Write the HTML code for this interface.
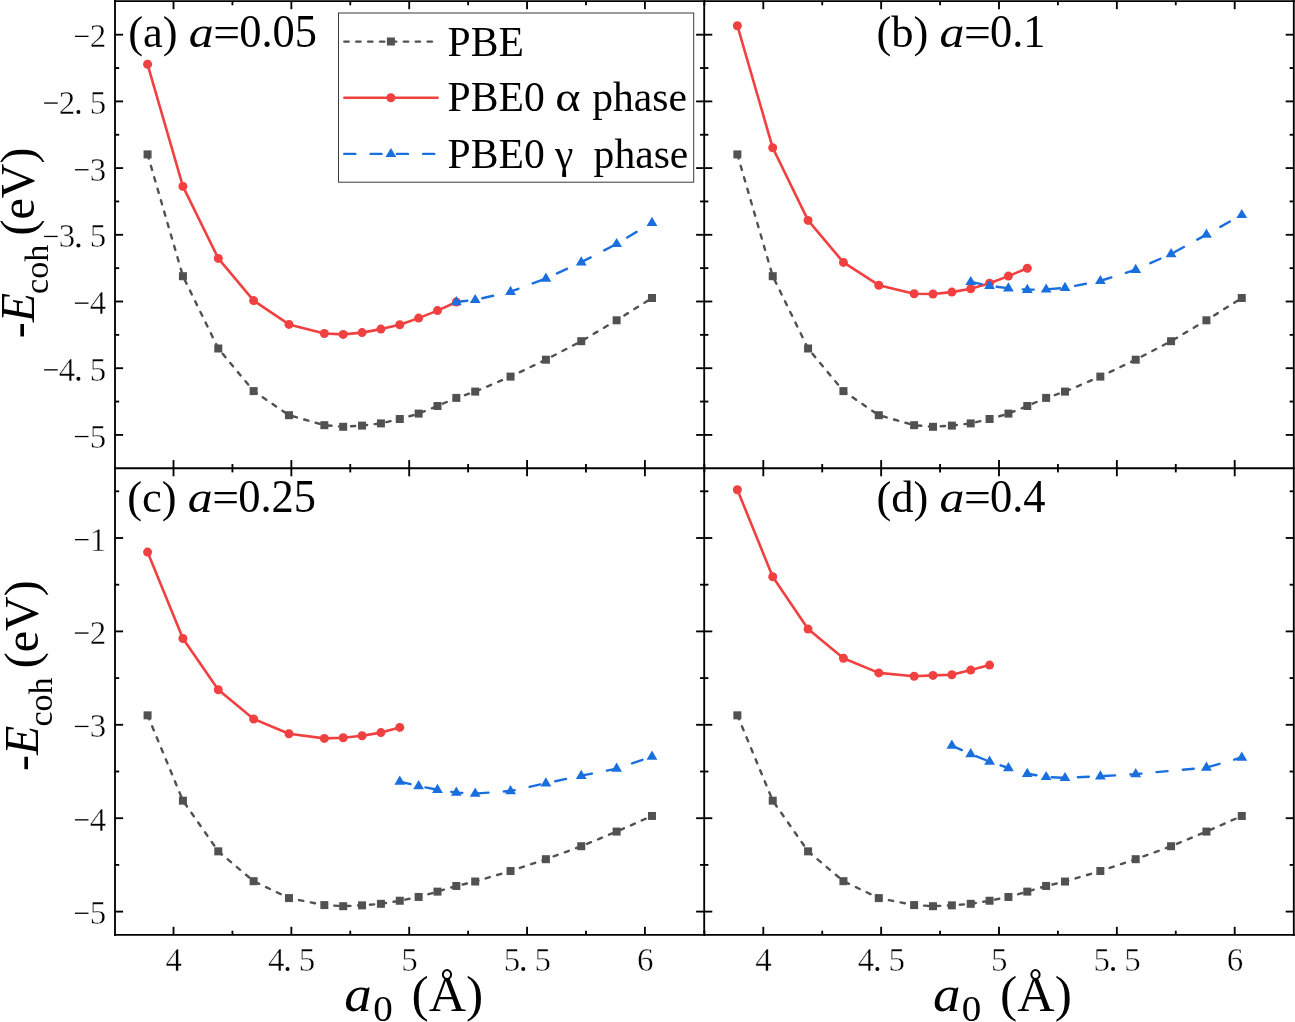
<!DOCTYPE html>
<html><head><meta charset="utf-8"><title>chart</title>
<style>
html,body{margin:0;padding:0;background:#fff;}
body{width:1295px;height:1022px;overflow:hidden;font-family:"Liberation Serif",serif;}
svg{display:block;will-change:transform;}
text{font-family:"Liberation Serif",serif;fill:#000;}
.tk{font-size:33px;stroke:#fff;stroke-width:0.45px;}
.tt{font-size:44.5px;}
.lg{font-size:41.6px;}
.yt{font-size:48px;}
.xt{font-size:50px;}
</style></head><body>
<svg width="1295" height="1022" viewBox="0 0 1295 1022">
<rect width="1295" height="1022" fill="#fff"/>
<path d="M147.57,154.40 L182.93,276.20 L218.28,348.50 L253.64,391.10 L288.99,415.20 L324.35,425.20 L343.20,426.80 L362.06,425.60 L380.92,423.40 L399.77,419.00 L418.63,413.60 L437.48,406.00 L456.34,397.90 L475.20,391.60 L510.55,376.60 L545.91,359.70 L581.26,341.20 L616.62,320.30 L651.97,298.00" fill="none" stroke="#515151" stroke-width="2.4" stroke-linejoin="round" stroke-linecap="round" stroke-dasharray="4.3 7.6"/>
<rect x="143.57" y="150.40" width="8" height="8" fill="#515151"/>
<rect x="178.93" y="272.20" width="8" height="8" fill="#515151"/>
<rect x="214.28" y="344.50" width="8" height="8" fill="#515151"/>
<rect x="249.64" y="387.10" width="8" height="8" fill="#515151"/>
<rect x="284.99" y="411.20" width="8" height="8" fill="#515151"/>
<rect x="320.35" y="421.20" width="8" height="8" fill="#515151"/>
<rect x="339.20" y="422.80" width="8" height="8" fill="#515151"/>
<rect x="358.06" y="421.60" width="8" height="8" fill="#515151"/>
<rect x="376.92" y="419.40" width="8" height="8" fill="#515151"/>
<rect x="395.77" y="415.00" width="8" height="8" fill="#515151"/>
<rect x="414.63" y="409.60" width="8" height="8" fill="#515151"/>
<rect x="433.48" y="402.00" width="8" height="8" fill="#515151"/>
<rect x="452.34" y="393.90" width="8" height="8" fill="#515151"/>
<rect x="471.20" y="387.60" width="8" height="8" fill="#515151"/>
<rect x="506.55" y="372.60" width="8" height="8" fill="#515151"/>
<rect x="541.91" y="355.70" width="8" height="8" fill="#515151"/>
<rect x="577.26" y="337.20" width="8" height="8" fill="#515151"/>
<rect x="612.62" y="316.30" width="8" height="8" fill="#515151"/>
<rect x="647.97" y="294.00" width="8" height="8" fill="#515151"/>
<path d="M147.57,64.30 L182.93,186.40 L218.28,258.40 L253.64,300.60 L288.99,324.40 L324.35,333.50 L343.20,334.40 L362.06,332.60 L380.92,329.10 L399.77,324.80 L418.63,318.10 L437.48,310.60 L456.34,302.00" fill="none" stroke="#F14040" stroke-width="2.6" stroke-linejoin="round" stroke-linecap="round"/>
<circle cx="147.57" cy="64.30" r="4.5" fill="#F14040"/>
<circle cx="182.93" cy="186.40" r="4.5" fill="#F14040"/>
<circle cx="218.28" cy="258.40" r="4.5" fill="#F14040"/>
<circle cx="253.64" cy="300.60" r="4.5" fill="#F14040"/>
<circle cx="288.99" cy="324.40" r="4.5" fill="#F14040"/>
<circle cx="324.35" cy="333.50" r="4.5" fill="#F14040"/>
<circle cx="343.20" cy="334.40" r="4.5" fill="#F14040"/>
<circle cx="362.06" cy="332.60" r="4.5" fill="#F14040"/>
<circle cx="380.92" cy="329.10" r="4.5" fill="#F14040"/>
<circle cx="399.77" cy="324.80" r="4.5" fill="#F14040"/>
<circle cx="418.63" cy="318.10" r="4.5" fill="#F14040"/>
<circle cx="437.48" cy="310.60" r="4.5" fill="#F14040"/>
<circle cx="456.34" cy="302.00" r="4.5" fill="#F14040"/>
<path d="M456.34,302.00 L475.20,299.90 L510.55,291.70 L545.91,278.50 L581.26,262.30 L616.62,243.90 L651.97,222.70" fill="none" stroke="#1A6FDF" stroke-width="2.4" stroke-linejoin="round" stroke-linecap="round" stroke-dasharray="11 15.3"/>
<path d="M456.34,296.00 L461.74,305.20 L450.94,305.20 Z" fill="#1A6FDF"/>
<path d="M475.20,293.90 L480.60,303.10 L469.80,303.10 Z" fill="#1A6FDF"/>
<path d="M510.55,285.70 L515.95,294.90 L505.15,294.90 Z" fill="#1A6FDF"/>
<path d="M545.91,272.50 L551.31,281.70 L540.51,281.70 Z" fill="#1A6FDF"/>
<path d="M581.26,256.30 L586.66,265.50 L575.86,265.50 Z" fill="#1A6FDF"/>
<path d="M616.62,237.90 L622.02,247.10 L611.22,247.10 Z" fill="#1A6FDF"/>
<path d="M651.97,216.70 L657.37,225.90 L646.57,225.90 Z" fill="#1A6FDF"/>
<path d="M737.37,154.40 L772.73,276.20 L808.08,348.50 L843.44,391.10 L878.79,415.20 L914.15,425.20 L933.00,426.80 L951.86,425.60 L970.72,423.40 L989.57,419.00 L1008.43,413.60 L1027.28,406.00 L1046.14,397.90 L1065.00,391.60 L1100.35,376.60 L1135.71,359.70 L1171.06,341.20 L1206.42,320.30 L1241.77,298.00" fill="none" stroke="#515151" stroke-width="2.4" stroke-linejoin="round" stroke-linecap="round" stroke-dasharray="4.3 7.6"/>
<rect x="733.37" y="150.40" width="8" height="8" fill="#515151"/>
<rect x="768.73" y="272.20" width="8" height="8" fill="#515151"/>
<rect x="804.08" y="344.50" width="8" height="8" fill="#515151"/>
<rect x="839.44" y="387.10" width="8" height="8" fill="#515151"/>
<rect x="874.79" y="411.20" width="8" height="8" fill="#515151"/>
<rect x="910.15" y="421.20" width="8" height="8" fill="#515151"/>
<rect x="929.00" y="422.80" width="8" height="8" fill="#515151"/>
<rect x="947.86" y="421.60" width="8" height="8" fill="#515151"/>
<rect x="966.72" y="419.40" width="8" height="8" fill="#515151"/>
<rect x="985.57" y="415.00" width="8" height="8" fill="#515151"/>
<rect x="1004.43" y="409.60" width="8" height="8" fill="#515151"/>
<rect x="1023.28" y="402.00" width="8" height="8" fill="#515151"/>
<rect x="1042.14" y="393.90" width="8" height="8" fill="#515151"/>
<rect x="1061.00" y="387.60" width="8" height="8" fill="#515151"/>
<rect x="1096.35" y="372.60" width="8" height="8" fill="#515151"/>
<rect x="1131.71" y="355.70" width="8" height="8" fill="#515151"/>
<rect x="1167.06" y="337.20" width="8" height="8" fill="#515151"/>
<rect x="1202.42" y="316.30" width="8" height="8" fill="#515151"/>
<rect x="1237.77" y="294.00" width="8" height="8" fill="#515151"/>
<path d="M737.37,25.70 L772.73,147.80 L808.08,220.40 L843.44,262.40 L878.79,285.20 L914.15,293.70 L933.00,294.00 L951.86,292.10 L970.72,288.70 L989.57,283.20 L1008.43,276.10 L1027.28,268.30" fill="none" stroke="#F14040" stroke-width="2.6" stroke-linejoin="round" stroke-linecap="round"/>
<circle cx="737.37" cy="25.70" r="4.5" fill="#F14040"/>
<circle cx="772.73" cy="147.80" r="4.5" fill="#F14040"/>
<circle cx="808.08" cy="220.40" r="4.5" fill="#F14040"/>
<circle cx="843.44" cy="262.40" r="4.5" fill="#F14040"/>
<circle cx="878.79" cy="285.20" r="4.5" fill="#F14040"/>
<circle cx="914.15" cy="293.70" r="4.5" fill="#F14040"/>
<circle cx="933.00" cy="294.00" r="4.5" fill="#F14040"/>
<circle cx="951.86" cy="292.10" r="4.5" fill="#F14040"/>
<circle cx="970.72" cy="288.70" r="4.5" fill="#F14040"/>
<circle cx="989.57" cy="283.20" r="4.5" fill="#F14040"/>
<circle cx="1008.43" cy="276.10" r="4.5" fill="#F14040"/>
<circle cx="1027.28" cy="268.30" r="4.5" fill="#F14040"/>
<path d="M970.72,281.90 L989.57,285.80 L1008.43,288.30 L1027.28,289.70 L1046.14,289.40 L1065.00,287.80 L1100.35,280.90 L1135.71,269.70 L1171.06,254.00 L1206.42,234.60 L1241.77,214.90" fill="none" stroke="#1A6FDF" stroke-width="2.4" stroke-linejoin="round" stroke-linecap="round" stroke-dasharray="11 15.3"/>
<path d="M970.72,275.90 L976.12,285.10 L965.32,285.10 Z" fill="#1A6FDF"/>
<path d="M989.57,279.80 L994.97,289.00 L984.17,289.00 Z" fill="#1A6FDF"/>
<path d="M1008.43,282.30 L1013.83,291.50 L1003.03,291.50 Z" fill="#1A6FDF"/>
<path d="M1027.28,283.70 L1032.68,292.90 L1021.88,292.90 Z" fill="#1A6FDF"/>
<path d="M1046.14,283.40 L1051.54,292.60 L1040.74,292.60 Z" fill="#1A6FDF"/>
<path d="M1065.00,281.80 L1070.40,291.00 L1059.60,291.00 Z" fill="#1A6FDF"/>
<path d="M1100.35,274.90 L1105.75,284.10 L1094.95,284.10 Z" fill="#1A6FDF"/>
<path d="M1135.71,263.70 L1141.11,272.90 L1130.31,272.90 Z" fill="#1A6FDF"/>
<path d="M1171.06,248.00 L1176.46,257.20 L1165.66,257.20 Z" fill="#1A6FDF"/>
<path d="M1206.42,228.60 L1211.82,237.80 L1201.02,237.80 Z" fill="#1A6FDF"/>
<path d="M1241.77,208.90 L1247.17,218.10 L1236.37,218.10 Z" fill="#1A6FDF"/>
<path d="M147.57,715.34 L182.93,800.68 L218.28,851.34 L253.64,881.19 L288.99,898.08 L324.35,905.08 L343.20,906.20 L362.06,905.36 L380.92,903.82 L399.77,900.74 L418.63,896.96 L437.48,891.63 L456.34,885.96 L475.20,881.54 L510.55,871.03 L545.91,859.19 L581.26,846.23 L616.62,831.58 L651.97,815.96" fill="none" stroke="#515151" stroke-width="2.4" stroke-linejoin="round" stroke-linecap="round" stroke-dasharray="4.3 7.6"/>
<rect x="143.57" y="711.34" width="8" height="8" fill="#515151"/>
<rect x="178.93" y="796.68" width="8" height="8" fill="#515151"/>
<rect x="214.28" y="847.34" width="8" height="8" fill="#515151"/>
<rect x="249.64" y="877.19" width="8" height="8" fill="#515151"/>
<rect x="284.99" y="894.08" width="8" height="8" fill="#515151"/>
<rect x="320.35" y="901.08" width="8" height="8" fill="#515151"/>
<rect x="339.20" y="902.20" width="8" height="8" fill="#515151"/>
<rect x="358.06" y="901.36" width="8" height="8" fill="#515151"/>
<rect x="376.92" y="899.82" width="8" height="8" fill="#515151"/>
<rect x="395.77" y="896.74" width="8" height="8" fill="#515151"/>
<rect x="414.63" y="892.96" width="8" height="8" fill="#515151"/>
<rect x="433.48" y="887.63" width="8" height="8" fill="#515151"/>
<rect x="452.34" y="881.96" width="8" height="8" fill="#515151"/>
<rect x="471.20" y="877.54" width="8" height="8" fill="#515151"/>
<rect x="506.55" y="867.03" width="8" height="8" fill="#515151"/>
<rect x="541.91" y="855.19" width="8" height="8" fill="#515151"/>
<rect x="577.26" y="842.23" width="8" height="8" fill="#515151"/>
<rect x="612.62" y="827.58" width="8" height="8" fill="#515151"/>
<rect x="647.97" y="811.96" width="8" height="8" fill="#515151"/>
<path d="M147.57,552.10 L182.93,638.50 L218.28,689.80 L253.64,719.00 L288.99,733.70 L324.35,738.40 L343.20,737.70 L362.06,735.80 L380.92,732.60 L399.77,727.40" fill="none" stroke="#F14040" stroke-width="2.6" stroke-linejoin="round" stroke-linecap="round"/>
<circle cx="147.57" cy="552.10" r="4.5" fill="#F14040"/>
<circle cx="182.93" cy="638.50" r="4.5" fill="#F14040"/>
<circle cx="218.28" cy="689.80" r="4.5" fill="#F14040"/>
<circle cx="253.64" cy="719.00" r="4.5" fill="#F14040"/>
<circle cx="288.99" cy="733.70" r="4.5" fill="#F14040"/>
<circle cx="324.35" cy="738.40" r="4.5" fill="#F14040"/>
<circle cx="343.20" cy="737.70" r="4.5" fill="#F14040"/>
<circle cx="362.06" cy="735.80" r="4.5" fill="#F14040"/>
<circle cx="380.92" cy="732.60" r="4.5" fill="#F14040"/>
<circle cx="399.77" cy="727.40" r="4.5" fill="#F14040"/>
<path d="M399.77,781.60 L418.63,786.10 L437.48,789.70 L456.34,792.60 L475.20,793.60 L510.55,791.00 L545.91,783.20 L581.26,775.70 L616.62,768.60 L651.97,756.60" fill="none" stroke="#1A6FDF" stroke-width="2.4" stroke-linejoin="round" stroke-linecap="round" stroke-dasharray="11 15.3"/>
<path d="M399.77,775.60 L405.17,784.80 L394.37,784.80 Z" fill="#1A6FDF"/>
<path d="M418.63,780.10 L424.03,789.30 L413.23,789.30 Z" fill="#1A6FDF"/>
<path d="M437.48,783.70 L442.88,792.90 L432.08,792.90 Z" fill="#1A6FDF"/>
<path d="M456.34,786.60 L461.74,795.80 L450.94,795.80 Z" fill="#1A6FDF"/>
<path d="M475.20,787.60 L480.60,796.80 L469.80,796.80 Z" fill="#1A6FDF"/>
<path d="M510.55,785.00 L515.95,794.20 L505.15,794.20 Z" fill="#1A6FDF"/>
<path d="M545.91,777.20 L551.31,786.40 L540.51,786.40 Z" fill="#1A6FDF"/>
<path d="M581.26,769.70 L586.66,778.90 L575.86,778.90 Z" fill="#1A6FDF"/>
<path d="M616.62,762.60 L622.02,771.80 L611.22,771.80 Z" fill="#1A6FDF"/>
<path d="M651.97,750.60 L657.37,759.80 L646.57,759.80 Z" fill="#1A6FDF"/>
<path d="M737.37,715.34 L772.73,800.68 L808.08,851.34 L843.44,881.19 L878.79,898.08 L914.15,905.08 L933.00,906.20 L951.86,905.36 L970.72,903.82 L989.57,900.74 L1008.43,896.96 L1027.28,891.63 L1046.14,885.96 L1065.00,881.54 L1100.35,871.03 L1135.71,859.19 L1171.06,846.23 L1206.42,831.58 L1241.77,815.96" fill="none" stroke="#515151" stroke-width="2.4" stroke-linejoin="round" stroke-linecap="round" stroke-dasharray="4.3 7.6"/>
<rect x="733.37" y="711.34" width="8" height="8" fill="#515151"/>
<rect x="768.73" y="796.68" width="8" height="8" fill="#515151"/>
<rect x="804.08" y="847.34" width="8" height="8" fill="#515151"/>
<rect x="839.44" y="877.19" width="8" height="8" fill="#515151"/>
<rect x="874.79" y="894.08" width="8" height="8" fill="#515151"/>
<rect x="910.15" y="901.08" width="8" height="8" fill="#515151"/>
<rect x="929.00" y="902.20" width="8" height="8" fill="#515151"/>
<rect x="947.86" y="901.36" width="8" height="8" fill="#515151"/>
<rect x="966.72" y="899.82" width="8" height="8" fill="#515151"/>
<rect x="985.57" y="896.74" width="8" height="8" fill="#515151"/>
<rect x="1004.43" y="892.96" width="8" height="8" fill="#515151"/>
<rect x="1023.28" y="887.63" width="8" height="8" fill="#515151"/>
<rect x="1042.14" y="881.96" width="8" height="8" fill="#515151"/>
<rect x="1061.00" y="877.54" width="8" height="8" fill="#515151"/>
<rect x="1096.35" y="867.03" width="8" height="8" fill="#515151"/>
<rect x="1131.71" y="855.19" width="8" height="8" fill="#515151"/>
<rect x="1167.06" y="842.23" width="8" height="8" fill="#515151"/>
<rect x="1202.42" y="827.58" width="8" height="8" fill="#515151"/>
<rect x="1237.77" y="811.96" width="8" height="8" fill="#515151"/>
<path d="M737.37,489.70 L772.73,576.80 L808.08,629.10 L843.44,658.20 L878.79,672.90 L914.15,676.30 L933.00,675.40 L951.86,674.80 L970.72,670.10 L989.57,665.10" fill="none" stroke="#F14040" stroke-width="2.6" stroke-linejoin="round" stroke-linecap="round"/>
<circle cx="737.37" cy="489.70" r="4.5" fill="#F14040"/>
<circle cx="772.73" cy="576.80" r="4.5" fill="#F14040"/>
<circle cx="808.08" cy="629.10" r="4.5" fill="#F14040"/>
<circle cx="843.44" cy="658.20" r="4.5" fill="#F14040"/>
<circle cx="878.79" cy="672.90" r="4.5" fill="#F14040"/>
<circle cx="914.15" cy="676.30" r="4.5" fill="#F14040"/>
<circle cx="933.00" cy="675.40" r="4.5" fill="#F14040"/>
<circle cx="951.86" cy="674.80" r="4.5" fill="#F14040"/>
<circle cx="970.72" cy="670.10" r="4.5" fill="#F14040"/>
<circle cx="989.57" cy="665.10" r="4.5" fill="#F14040"/>
<path d="M951.86,745.60 L970.72,754.10 L989.57,761.60 L1008.43,768.00 L1027.28,773.80 L1046.14,776.90 L1065.00,777.90 L1100.35,776.30 L1135.71,774.10 L1206.42,767.50 L1241.77,757.50" fill="none" stroke="#1A6FDF" stroke-width="2.4" stroke-linejoin="round" stroke-linecap="round" stroke-dasharray="11 15.3"/>
<path d="M951.86,739.60 L957.26,748.80 L946.46,748.80 Z" fill="#1A6FDF"/>
<path d="M970.72,748.10 L976.12,757.30 L965.32,757.30 Z" fill="#1A6FDF"/>
<path d="M989.57,755.60 L994.97,764.80 L984.17,764.80 Z" fill="#1A6FDF"/>
<path d="M1008.43,762.00 L1013.83,771.20 L1003.03,771.20 Z" fill="#1A6FDF"/>
<path d="M1027.28,767.80 L1032.68,777.00 L1021.88,777.00 Z" fill="#1A6FDF"/>
<path d="M1046.14,770.90 L1051.54,780.10 L1040.74,780.10 Z" fill="#1A6FDF"/>
<path d="M1065.00,771.90 L1070.40,781.10 L1059.60,781.10 Z" fill="#1A6FDF"/>
<path d="M1100.35,770.30 L1105.75,779.50 L1094.95,779.50 Z" fill="#1A6FDF"/>
<path d="M1135.71,768.10 L1141.11,777.30 L1130.31,777.30 Z" fill="#1A6FDF"/>
<path d="M1206.42,761.50 L1211.82,770.70 L1201.02,770.70 Z" fill="#1A6FDF"/>
<path d="M1241.77,751.50 L1247.17,760.70 L1236.37,760.70 Z" fill="#1A6FDF"/>
<line x1="115.00" y1="0.00" x2="115.00" y2="935.90" stroke="#000" stroke-width="1.85"/>
<line x1="704.20" y1="0.00" x2="704.20" y2="935.90" stroke="#000" stroke-width="1.85"/>
<line x1="1293.80" y1="0.00" x2="1293.80" y2="935.90" stroke="#000" stroke-width="1.85"/>
<line x1="114.00" y1="1.10" x2="1294.80" y2="1.10" stroke="#000" stroke-width="1.85"/>
<line x1="114.00" y1="468.20" x2="1294.80" y2="468.20" stroke="#000" stroke-width="1.85"/>
<line x1="114.00" y1="934.90" x2="1294.80" y2="934.90" stroke="#000" stroke-width="1.85"/>
<line x1="173.50" y1="1.10" x2="173.50" y2="9.20" stroke="#000" stroke-width="1.85"/>
<line x1="173.50" y1="460.10" x2="173.50" y2="476.30" stroke="#000" stroke-width="1.85"/>
<line x1="173.50" y1="926.80" x2="173.50" y2="934.90" stroke="#000" stroke-width="1.85"/>
<line x1="232.43" y1="1.10" x2="232.43" y2="5.30" stroke="#000" stroke-width="1.85"/>
<line x1="232.43" y1="464.00" x2="232.43" y2="472.40" stroke="#000" stroke-width="1.85"/>
<line x1="232.43" y1="930.70" x2="232.43" y2="934.90" stroke="#000" stroke-width="1.85"/>
<line x1="291.35" y1="1.10" x2="291.35" y2="9.20" stroke="#000" stroke-width="1.85"/>
<line x1="291.35" y1="460.10" x2="291.35" y2="476.30" stroke="#000" stroke-width="1.85"/>
<line x1="291.35" y1="926.80" x2="291.35" y2="934.90" stroke="#000" stroke-width="1.85"/>
<line x1="350.27" y1="1.10" x2="350.27" y2="5.30" stroke="#000" stroke-width="1.85"/>
<line x1="350.27" y1="464.00" x2="350.27" y2="472.40" stroke="#000" stroke-width="1.85"/>
<line x1="350.27" y1="930.70" x2="350.27" y2="934.90" stroke="#000" stroke-width="1.85"/>
<line x1="409.20" y1="1.10" x2="409.20" y2="9.20" stroke="#000" stroke-width="1.85"/>
<line x1="409.20" y1="460.10" x2="409.20" y2="476.30" stroke="#000" stroke-width="1.85"/>
<line x1="409.20" y1="926.80" x2="409.20" y2="934.90" stroke="#000" stroke-width="1.85"/>
<line x1="468.12" y1="1.10" x2="468.12" y2="5.30" stroke="#000" stroke-width="1.85"/>
<line x1="468.12" y1="464.00" x2="468.12" y2="472.40" stroke="#000" stroke-width="1.85"/>
<line x1="468.12" y1="930.70" x2="468.12" y2="934.90" stroke="#000" stroke-width="1.85"/>
<line x1="527.05" y1="1.10" x2="527.05" y2="9.20" stroke="#000" stroke-width="1.85"/>
<line x1="527.05" y1="460.10" x2="527.05" y2="476.30" stroke="#000" stroke-width="1.85"/>
<line x1="527.05" y1="926.80" x2="527.05" y2="934.90" stroke="#000" stroke-width="1.85"/>
<line x1="585.97" y1="1.10" x2="585.97" y2="5.30" stroke="#000" stroke-width="1.85"/>
<line x1="585.97" y1="464.00" x2="585.97" y2="472.40" stroke="#000" stroke-width="1.85"/>
<line x1="585.97" y1="930.70" x2="585.97" y2="934.90" stroke="#000" stroke-width="1.85"/>
<line x1="644.90" y1="1.10" x2="644.90" y2="9.20" stroke="#000" stroke-width="1.85"/>
<line x1="644.90" y1="460.10" x2="644.90" y2="476.30" stroke="#000" stroke-width="1.85"/>
<line x1="644.90" y1="926.80" x2="644.90" y2="934.90" stroke="#000" stroke-width="1.85"/>
<line x1="704.38" y1="1.10" x2="704.38" y2="5.30" stroke="#000" stroke-width="1.85"/>
<line x1="704.38" y1="464.00" x2="704.38" y2="472.40" stroke="#000" stroke-width="1.85"/>
<line x1="704.38" y1="930.70" x2="704.38" y2="934.90" stroke="#000" stroke-width="1.85"/>
<line x1="763.30" y1="1.10" x2="763.30" y2="9.20" stroke="#000" stroke-width="1.85"/>
<line x1="763.30" y1="460.10" x2="763.30" y2="476.30" stroke="#000" stroke-width="1.85"/>
<line x1="763.30" y1="926.80" x2="763.30" y2="934.90" stroke="#000" stroke-width="1.85"/>
<line x1="822.22" y1="1.10" x2="822.22" y2="5.30" stroke="#000" stroke-width="1.85"/>
<line x1="822.22" y1="464.00" x2="822.22" y2="472.40" stroke="#000" stroke-width="1.85"/>
<line x1="822.22" y1="930.70" x2="822.22" y2="934.90" stroke="#000" stroke-width="1.85"/>
<line x1="881.15" y1="1.10" x2="881.15" y2="9.20" stroke="#000" stroke-width="1.85"/>
<line x1="881.15" y1="460.10" x2="881.15" y2="476.30" stroke="#000" stroke-width="1.85"/>
<line x1="881.15" y1="926.80" x2="881.15" y2="934.90" stroke="#000" stroke-width="1.85"/>
<line x1="940.07" y1="1.10" x2="940.07" y2="5.30" stroke="#000" stroke-width="1.85"/>
<line x1="940.07" y1="464.00" x2="940.07" y2="472.40" stroke="#000" stroke-width="1.85"/>
<line x1="940.07" y1="930.70" x2="940.07" y2="934.90" stroke="#000" stroke-width="1.85"/>
<line x1="999.00" y1="1.10" x2="999.00" y2="9.20" stroke="#000" stroke-width="1.85"/>
<line x1="999.00" y1="460.10" x2="999.00" y2="476.30" stroke="#000" stroke-width="1.85"/>
<line x1="999.00" y1="926.80" x2="999.00" y2="934.90" stroke="#000" stroke-width="1.85"/>
<line x1="1057.92" y1="1.10" x2="1057.92" y2="5.30" stroke="#000" stroke-width="1.85"/>
<line x1="1057.92" y1="464.00" x2="1057.92" y2="472.40" stroke="#000" stroke-width="1.85"/>
<line x1="1057.92" y1="930.70" x2="1057.92" y2="934.90" stroke="#000" stroke-width="1.85"/>
<line x1="1116.85" y1="1.10" x2="1116.85" y2="9.20" stroke="#000" stroke-width="1.85"/>
<line x1="1116.85" y1="460.10" x2="1116.85" y2="476.30" stroke="#000" stroke-width="1.85"/>
<line x1="1116.85" y1="926.80" x2="1116.85" y2="934.90" stroke="#000" stroke-width="1.85"/>
<line x1="1175.77" y1="1.10" x2="1175.77" y2="5.30" stroke="#000" stroke-width="1.85"/>
<line x1="1175.77" y1="464.00" x2="1175.77" y2="472.40" stroke="#000" stroke-width="1.85"/>
<line x1="1175.77" y1="930.70" x2="1175.77" y2="934.90" stroke="#000" stroke-width="1.85"/>
<line x1="1234.70" y1="1.10" x2="1234.70" y2="9.20" stroke="#000" stroke-width="1.85"/>
<line x1="1234.70" y1="460.10" x2="1234.70" y2="476.30" stroke="#000" stroke-width="1.85"/>
<line x1="1234.70" y1="926.80" x2="1234.70" y2="934.90" stroke="#000" stroke-width="1.85"/>
<line x1="115.00" y1="434.90" x2="123.10" y2="434.90" stroke="#000" stroke-width="1.85"/>
<line x1="696.10" y1="434.90" x2="712.30" y2="434.90" stroke="#000" stroke-width="1.85"/>
<line x1="1285.70" y1="434.90" x2="1293.80" y2="434.90" stroke="#000" stroke-width="1.85"/>
<line x1="115.00" y1="401.55" x2="119.20" y2="401.55" stroke="#000" stroke-width="1.85"/>
<line x1="700.00" y1="401.55" x2="708.40" y2="401.55" stroke="#000" stroke-width="1.85"/>
<line x1="1289.60" y1="401.55" x2="1293.80" y2="401.55" stroke="#000" stroke-width="1.85"/>
<line x1="115.00" y1="368.20" x2="123.10" y2="368.20" stroke="#000" stroke-width="1.85"/>
<line x1="696.10" y1="368.20" x2="712.30" y2="368.20" stroke="#000" stroke-width="1.85"/>
<line x1="1285.70" y1="368.20" x2="1293.80" y2="368.20" stroke="#000" stroke-width="1.85"/>
<line x1="115.00" y1="334.85" x2="119.20" y2="334.85" stroke="#000" stroke-width="1.85"/>
<line x1="700.00" y1="334.85" x2="708.40" y2="334.85" stroke="#000" stroke-width="1.85"/>
<line x1="1289.60" y1="334.85" x2="1293.80" y2="334.85" stroke="#000" stroke-width="1.85"/>
<line x1="115.00" y1="301.50" x2="123.10" y2="301.50" stroke="#000" stroke-width="1.85"/>
<line x1="696.10" y1="301.50" x2="712.30" y2="301.50" stroke="#000" stroke-width="1.85"/>
<line x1="1285.70" y1="301.50" x2="1293.80" y2="301.50" stroke="#000" stroke-width="1.85"/>
<line x1="115.00" y1="268.15" x2="119.20" y2="268.15" stroke="#000" stroke-width="1.85"/>
<line x1="700.00" y1="268.15" x2="708.40" y2="268.15" stroke="#000" stroke-width="1.85"/>
<line x1="1289.60" y1="268.15" x2="1293.80" y2="268.15" stroke="#000" stroke-width="1.85"/>
<line x1="115.00" y1="234.80" x2="123.10" y2="234.80" stroke="#000" stroke-width="1.85"/>
<line x1="696.10" y1="234.80" x2="712.30" y2="234.80" stroke="#000" stroke-width="1.85"/>
<line x1="1285.70" y1="234.80" x2="1293.80" y2="234.80" stroke="#000" stroke-width="1.85"/>
<line x1="115.00" y1="201.45" x2="119.20" y2="201.45" stroke="#000" stroke-width="1.85"/>
<line x1="700.00" y1="201.45" x2="708.40" y2="201.45" stroke="#000" stroke-width="1.85"/>
<line x1="1289.60" y1="201.45" x2="1293.80" y2="201.45" stroke="#000" stroke-width="1.85"/>
<line x1="115.00" y1="168.10" x2="123.10" y2="168.10" stroke="#000" stroke-width="1.85"/>
<line x1="696.10" y1="168.10" x2="712.30" y2="168.10" stroke="#000" stroke-width="1.85"/>
<line x1="1285.70" y1="168.10" x2="1293.80" y2="168.10" stroke="#000" stroke-width="1.85"/>
<line x1="115.00" y1="134.75" x2="119.20" y2="134.75" stroke="#000" stroke-width="1.85"/>
<line x1="700.00" y1="134.75" x2="708.40" y2="134.75" stroke="#000" stroke-width="1.85"/>
<line x1="1289.60" y1="134.75" x2="1293.80" y2="134.75" stroke="#000" stroke-width="1.85"/>
<line x1="115.00" y1="101.40" x2="123.10" y2="101.40" stroke="#000" stroke-width="1.85"/>
<line x1="696.10" y1="101.40" x2="712.30" y2="101.40" stroke="#000" stroke-width="1.85"/>
<line x1="1285.70" y1="101.40" x2="1293.80" y2="101.40" stroke="#000" stroke-width="1.85"/>
<line x1="115.00" y1="68.05" x2="119.20" y2="68.05" stroke="#000" stroke-width="1.85"/>
<line x1="700.00" y1="68.05" x2="708.40" y2="68.05" stroke="#000" stroke-width="1.85"/>
<line x1="1289.60" y1="68.05" x2="1293.80" y2="68.05" stroke="#000" stroke-width="1.85"/>
<line x1="115.00" y1="34.70" x2="123.10" y2="34.70" stroke="#000" stroke-width="1.85"/>
<line x1="696.10" y1="34.70" x2="712.30" y2="34.70" stroke="#000" stroke-width="1.85"/>
<line x1="1285.70" y1="34.70" x2="1293.80" y2="34.70" stroke="#000" stroke-width="1.85"/>
<line x1="115.00" y1="911.60" x2="123.10" y2="911.60" stroke="#000" stroke-width="1.85"/>
<line x1="696.10" y1="911.60" x2="712.30" y2="911.60" stroke="#000" stroke-width="1.85"/>
<line x1="1285.70" y1="911.60" x2="1293.80" y2="911.60" stroke="#000" stroke-width="1.85"/>
<line x1="115.00" y1="864.90" x2="119.20" y2="864.90" stroke="#000" stroke-width="1.85"/>
<line x1="700.00" y1="864.90" x2="708.40" y2="864.90" stroke="#000" stroke-width="1.85"/>
<line x1="1289.60" y1="864.90" x2="1293.80" y2="864.90" stroke="#000" stroke-width="1.85"/>
<line x1="115.00" y1="818.20" x2="123.10" y2="818.20" stroke="#000" stroke-width="1.85"/>
<line x1="696.10" y1="818.20" x2="712.30" y2="818.20" stroke="#000" stroke-width="1.85"/>
<line x1="1285.70" y1="818.20" x2="1293.80" y2="818.20" stroke="#000" stroke-width="1.85"/>
<line x1="115.00" y1="771.50" x2="119.20" y2="771.50" stroke="#000" stroke-width="1.85"/>
<line x1="700.00" y1="771.50" x2="708.40" y2="771.50" stroke="#000" stroke-width="1.85"/>
<line x1="1289.60" y1="771.50" x2="1293.80" y2="771.50" stroke="#000" stroke-width="1.85"/>
<line x1="115.00" y1="724.80" x2="123.10" y2="724.80" stroke="#000" stroke-width="1.85"/>
<line x1="696.10" y1="724.80" x2="712.30" y2="724.80" stroke="#000" stroke-width="1.85"/>
<line x1="1285.70" y1="724.80" x2="1293.80" y2="724.80" stroke="#000" stroke-width="1.85"/>
<line x1="115.00" y1="678.10" x2="119.20" y2="678.10" stroke="#000" stroke-width="1.85"/>
<line x1="700.00" y1="678.10" x2="708.40" y2="678.10" stroke="#000" stroke-width="1.85"/>
<line x1="1289.60" y1="678.10" x2="1293.80" y2="678.10" stroke="#000" stroke-width="1.85"/>
<line x1="115.00" y1="631.40" x2="123.10" y2="631.40" stroke="#000" stroke-width="1.85"/>
<line x1="696.10" y1="631.40" x2="712.30" y2="631.40" stroke="#000" stroke-width="1.85"/>
<line x1="1285.70" y1="631.40" x2="1293.80" y2="631.40" stroke="#000" stroke-width="1.85"/>
<line x1="115.00" y1="584.70" x2="119.20" y2="584.70" stroke="#000" stroke-width="1.85"/>
<line x1="700.00" y1="584.70" x2="708.40" y2="584.70" stroke="#000" stroke-width="1.85"/>
<line x1="1289.60" y1="584.70" x2="1293.80" y2="584.70" stroke="#000" stroke-width="1.85"/>
<line x1="115.00" y1="538.00" x2="123.10" y2="538.00" stroke="#000" stroke-width="1.85"/>
<line x1="696.10" y1="538.00" x2="712.30" y2="538.00" stroke="#000" stroke-width="1.85"/>
<line x1="1285.70" y1="538.00" x2="1293.80" y2="538.00" stroke="#000" stroke-width="1.85"/>
<line x1="115.00" y1="491.30" x2="119.20" y2="491.30" stroke="#000" stroke-width="1.85"/>
<line x1="700.00" y1="491.30" x2="708.40" y2="491.30" stroke="#000" stroke-width="1.85"/>
<line x1="1289.60" y1="491.30" x2="1293.80" y2="491.30" stroke="#000" stroke-width="1.85"/>
<rect x="74.90" y="35.70" width="13.6" height="1.3" fill="#000"/>
<text x="97.90" y="47.30" text-anchor="middle" class="tk">2</text>
<rect x="44.10" y="102.40" width="13.6" height="1.3" fill="#000"/>
<text x="67.10" y="114.00" text-anchor="middle" class="tk">2</text>
<circle cx="78.40" cy="112.00" r="2.0" fill="#000"/>
<text x="97.90" y="114.00" text-anchor="middle" class="tk">5</text>
<rect x="74.90" y="169.10" width="13.6" height="1.3" fill="#000"/>
<text x="97.90" y="180.70" text-anchor="middle" class="tk">3</text>
<rect x="44.10" y="235.80" width="13.6" height="1.3" fill="#000"/>
<text x="67.10" y="247.40" text-anchor="middle" class="tk">3</text>
<circle cx="78.40" cy="245.40" r="2.0" fill="#000"/>
<text x="97.90" y="247.40" text-anchor="middle" class="tk">5</text>
<rect x="74.90" y="302.50" width="13.6" height="1.3" fill="#000"/>
<text x="97.90" y="314.10" text-anchor="middle" class="tk">4</text>
<rect x="44.10" y="369.20" width="13.6" height="1.3" fill="#000"/>
<text x="67.10" y="380.80" text-anchor="middle" class="tk">4</text>
<circle cx="78.40" cy="378.80" r="2.0" fill="#000"/>
<text x="97.90" y="380.80" text-anchor="middle" class="tk">5</text>
<rect x="74.90" y="435.90" width="13.6" height="1.3" fill="#000"/>
<text x="97.90" y="447.50" text-anchor="middle" class="tk">5</text>
<rect x="74.90" y="539.00" width="13.6" height="1.3" fill="#000"/>
<text x="97.90" y="550.60" text-anchor="middle" class="tk">1</text>
<rect x="74.90" y="632.40" width="13.6" height="1.3" fill="#000"/>
<text x="97.90" y="644.00" text-anchor="middle" class="tk">2</text>
<rect x="74.90" y="725.80" width="13.6" height="1.3" fill="#000"/>
<text x="97.90" y="737.40" text-anchor="middle" class="tk">3</text>
<rect x="74.90" y="819.20" width="13.6" height="1.3" fill="#000"/>
<text x="97.90" y="830.80" text-anchor="middle" class="tk">4</text>
<rect x="74.90" y="912.60" width="13.6" height="1.3" fill="#000"/>
<text x="97.90" y="924.20" text-anchor="middle" class="tk">5</text>
<text x="173.80" y="971.00" text-anchor="middle" class="tk">4</text>
<text x="276.25" y="971.00" text-anchor="middle" class="tk">4</text>
<circle cx="287.55" cy="969.00" r="2.0" fill="#000"/>
<text x="307.05" y="971.00" text-anchor="middle" class="tk">5</text>
<text x="409.50" y="971.00" text-anchor="middle" class="tk">5</text>
<text x="511.95" y="971.00" text-anchor="middle" class="tk">5</text>
<circle cx="523.25" cy="969.00" r="2.0" fill="#000"/>
<text x="542.75" y="971.00" text-anchor="middle" class="tk">5</text>
<text x="645.20" y="971.00" text-anchor="middle" class="tk">6</text>
<text x="763.60" y="971.00" text-anchor="middle" class="tk">4</text>
<text x="866.05" y="971.00" text-anchor="middle" class="tk">4</text>
<circle cx="877.35" cy="969.00" r="2.0" fill="#000"/>
<text x="896.85" y="971.00" text-anchor="middle" class="tk">5</text>
<text x="999.30" y="971.00" text-anchor="middle" class="tk">5</text>
<text x="1101.75" y="971.00" text-anchor="middle" class="tk">5</text>
<circle cx="1113.05" cy="969.00" r="2.0" fill="#000"/>
<text x="1132.55" y="971.00" text-anchor="middle" class="tk">5</text>
<text x="1235.00" y="971.00" text-anchor="middle" class="tk">6</text>
<text x="128.2" y="46.8" class="tt">(a)</text>
<text transform="translate(188.72,46.8) scale(1.12,1)" class="tt" font-style="italic">a</text>
<text transform="translate(213.32,46.8) scale(1.07,1)" class="tt">=</text>
<text transform="translate(239.22,46.8) scale(1,1.035)" class="tt">0.05</text>
<text x="876.4" y="46.8" class="tt">(b)</text>
<text transform="translate(939.41,46.8) scale(1.12,1)" class="tt" font-style="italic">a</text>
<text transform="translate(964.01,46.8) scale(1.07,1)" class="tt">=</text>
<text transform="translate(989.91,46.8) scale(1,1.035)" class="tt">0.1</text>
<text x="127.2" y="511.5" class="tt">(c)</text>
<text transform="translate(187.72,511.5) scale(1.12,1)" class="tt" font-style="italic">a</text>
<text transform="translate(212.32,511.5) scale(1.07,1)" class="tt">=</text>
<text transform="translate(238.22,511.5) scale(1,1.035)" class="tt">0.25</text>
<text x="876.4" y="511.5" class="tt">(d)</text>
<text transform="translate(939.41,511.5) scale(1.12,1)" class="tt" font-style="italic">a</text>
<text transform="translate(964.01,511.5) scale(1.07,1)" class="tt">=</text>
<text transform="translate(989.91,511.5) scale(1,1.035)" class="tt">0.4</text>
<rect x="338.5" y="13" width="355.2" height="169.2" fill="#fff" stroke="#3a3a3a" stroke-width="1"/>
<path d="M344.3,41.6 H432.7" stroke="#515151" stroke-width="2.4" stroke-linecap="round" stroke-dasharray="4.4 7.5" fill="none"/>
<rect x="386.90" y="37.50" width="8" height="8" fill="#515151"/>
<path d="M344.3,97.7 H437.7" stroke="#F14040" stroke-width="2.5" stroke-linecap="round" fill="none"/>
<circle cx="390.90" cy="97.70" r="4.5" fill="#F14040"/>
<path d="M344.3,153.9 H436" stroke="#1A6FDF" stroke-width="2.4" stroke-linecap="round" stroke-dasharray="11 15.3" fill="none"/>
<path d="M390.90,147.90 L396.30,157.10 L385.50,157.10 Z" fill="#1A6FDF"/>
<text x="447.6" y="55.6" class="lg">PBE</text>
<text x="447.6" y="111.3" class="lg">PBE0</text>
<text transform="translate(555.3,111.3) scale(1.16,1)" class="lg">α</text>
<text x="592.2" y="111.3" class="lg">phase</text>
<text x="447.6" y="167.8" class="lg">PBE0</text>
<text x="555" y="167.8" class="lg">γ</text>
<text x="593.6" y="167.8" class="lg">phase</text>
<g transform="translate(34.4,338.3) rotate(-90)"><text x="0" y="0" class="yt">-<tspan font-style="italic">E</tspan></text><text x="44.4" y="13.8" class="yt" style="font-size:34px">coh</text><text x="102.8" y="0" class="yt">(eV)</text></g>
<g transform="translate(37.8,771.0) rotate(-90)"><text x="0" y="0" class="yt">-<tspan font-style="italic">E</tspan></text><text x="44.4" y="13.8" class="yt" style="font-size:34px">coh</text><text x="102.8" y="0" class="yt">(eV)</text></g>
<text transform="translate(344.3,1011.3) scale(1.1,1.02)" x="0" y="0" class="xt" font-style="italic">a</text>
<text transform="translate(373.2,1021.4) scale(1.1,1)" x="0" y="0" class="xt" style="font-size:35.5px">0</text>
<text transform="translate(411.5,1011.3) scale(1.035,1)" x="0" y="0" class="xt">(Å)</text>
<text transform="translate(932.9000000000001,1011.3) scale(1.1,1.02)" x="0" y="0" class="xt" font-style="italic">a</text>
<text transform="translate(961.8000000000001,1021.4) scale(1.1,1)" x="0" y="0" class="xt" style="font-size:35.5px">0</text>
<text transform="translate(1000.1000000000001,1011.3) scale(1.035,1)" x="0" y="0" class="xt">(Å)</text>
</svg>
</body></html>
